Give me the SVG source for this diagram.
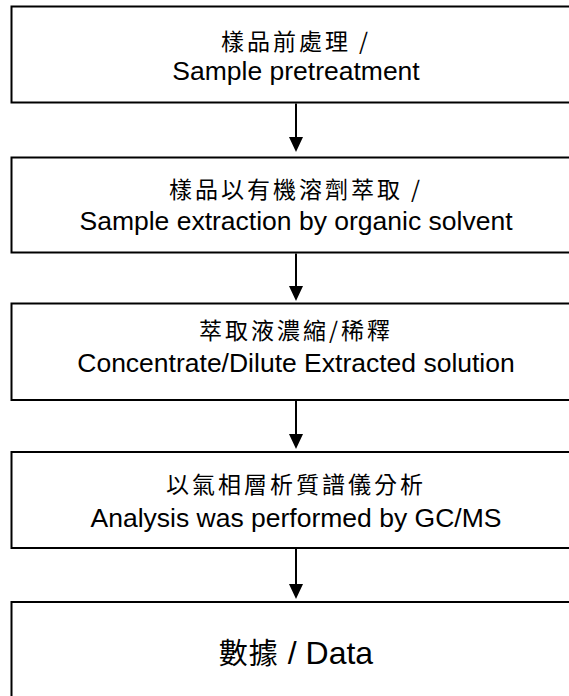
<svg xmlns="http://www.w3.org/2000/svg" width="569" height="696" viewBox="0 0 569 696">
<style>
.box{fill:#fff;stroke:#000;stroke-width:2}
.cjk{font-family:"Noto Sans CJK TC","Noto Sans CJK SC",sans-serif;font-size:23px;letter-spacing:3px;fill:#000;text-anchor:middle}
.en{font-family:"Liberation Sans",Arial,sans-serif;font-size:26.5px;fill:#000;text-anchor:middle}
.big{font-family:"Liberation Sans","Noto Sans CJK TC",sans-serif;font-size:32px;fill:#000;text-anchor:middle}
.con{stroke:#000;stroke-width:2;fill:none}
.head{fill:#000;stroke:none}
</style>
<rect width="569" height="696" fill="#fff"/>
<g id="node1">
<rect class="box" x="11.5" y="6.5" width="580" height="96"/>
<text class="cjk" x="296" y="50">樣品前處理 /</text>
<text class="en" x="296" y="80">Sample pretreatment</text>
</g>
<g id="node2">
<rect class="box" x="11.5" y="157.5" width="580" height="95"/>
<text class="cjk" x="296" y="198">樣品以有機溶劑萃取 /</text>
<text class="en" x="296" y="230">Sample extraction by organic solvent</text>
</g>
<g id="node3">
<rect class="box" x="11.5" y="303.5" width="580" height="96.5"/>
<text class="cjk" x="296" y="339">萃取液濃縮/稀釋</text>
<text class="en" x="296" y="372">Concentrate/Dilute Extracted solution</text>
</g>
<g id="node4">
<rect class="box" x="11.5" y="452" width="580" height="96"/>
<text class="cjk" x="296" y="493">以氣相層析質譜儀分析</text>
<text class="en" x="296" y="527">Analysis was performed by GC/MS</text>
</g>
<g id="node5">
<rect class="box" x="11.5" y="602" width="580" height="110"/>
<text class="big" x="296" y="664"><tspan font-family="Noto Sans CJK TC" font-size="29" letter-spacing="1">數據</tspan> / Data</text>
</g>
<g id="connectors">
<line class="con" x1="296" y1="103.5" x2="296" y2="138"/>
<polygon class="head" points="289,137 303,137 296,152"/>
<line class="con" x1="296" y1="253.5" x2="296" y2="287"/>
<polygon class="head" points="289,286 303,286 296,301"/>
<line class="con" x1="296" y1="401" x2="296" y2="435"/>
<polygon class="head" points="289,434 303,434 296,449"/>
<line class="con" x1="296" y1="549" x2="296" y2="585"/>
<polygon class="head" points="289,584 303,584 296,599"/>
</g>
</svg>
